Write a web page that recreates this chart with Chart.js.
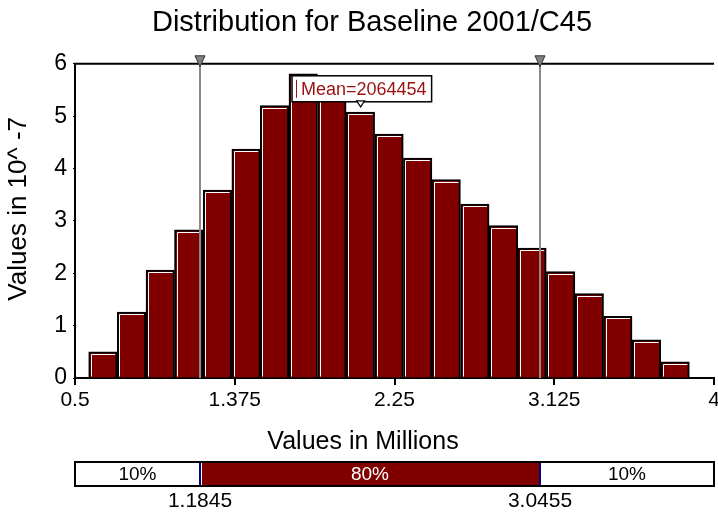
<!DOCTYPE html>
<html>
<head>
<meta charset="utf-8">
<script src="https://cdn.jsdelivr.net/npm/chart.js@4.4.1/dist/chart.umd.min.js"></script>
<style>
  html, body { margin: 0; padding: 0; background: #fff; }
  #wrap { width: 718px; height: 514px; }
</style>
</head>
<body>
<div id="wrap"><canvas id="distChart" width="718" height="514"></canvas></div>
<script>
// histogram bins (centres, in millions) and their density (x 10^-7)
const binCenters = [0.653, 0.810, 0.967, 1.123, 1.280, 1.437, 1.593, 1.750, 1.907, 2.063, 2.220,
                    2.377, 2.533, 2.690, 2.847, 3.003, 3.160, 3.317, 3.473, 3.630, 3.787];
const density = [0.50, 1.26, 2.06, 2.83, 3.59, 4.37, 5.20, 5.81, 5.50, 5.08, 4.66,
                 4.20, 3.79, 3.32, 2.91, 2.48, 2.03, 1.61, 1.18, 0.73, 0.31];

const xTickValues = [0.5, 1.375, 2.25, 3.125, 4];
const xTickLabels = ['0.5', '1.375', '2.25', '3.125', '4'];

const percentileValues = [1.1845, 3.0455];
const percentileLabels = ['1.1845', '3.0455'];
const bandLabels = ['10%', '80%', '10%'];

const meanValue = 2.064454;
const meanLabel = 'Mean=2064454';

const FONT = "'Liberation Sans', Arial, sans-serif";
const BAR_RED = '#800000';
const BAR_BORDER = 2;

// extra drawing: bar bevels, frame, percentile markers, mean label, band
const overlay = {
  id: 'overlay',
  afterDatasetsDraw(chart) {
    const { ctx } = chart;
    const meta = chart.getDatasetMeta(0);
    const bw = BAR_BORDER;
    ctx.save();
    ctx.strokeStyle = '#fff';
    ctx.lineWidth = 1;
    meta.data.forEach(bar => {
      const l = Math.round(bar.x - bar.width / 2 + bw) + 0.5;
      const r = bar.x + bar.width / 2 - bw;
      const t = Math.round(bar.y + bw) + 0.5;
      ctx.beginPath();
      ctx.moveTo(l, bar.base - 1);
      ctx.lineTo(l, t);
      ctx.lineTo(r, t);
      ctx.stroke();
    });
    ctx.restore();
  },
  afterDraw(chart) {
    const { ctx, chartArea: a } = chart;
    const x = chart.scales.x;
    ctx.save();

    // top frame line
    ctx.strokeStyle = '#000';
    ctx.lineWidth = 2;
    ctx.beginPath();
    ctx.moveTo(a.left - 1, a.top);
    ctx.lineTo(a.right, a.top);
    ctx.stroke();

    // percentile lines with grey markers on top
    percentileValues.forEach(v => {
      const px = Math.round(x.getPixelForValue(v));
      ctx.strokeStyle = '#8a8a8a';
      ctx.lineWidth = 2;
      ctx.beginPath();
      ctx.moveTo(px, a.top);
      ctx.lineTo(px, a.bottom);
      ctx.stroke();
      ctx.fillStyle = '#808080';
      ctx.strokeStyle = '#333';
      ctx.lineWidth = 1;
      ctx.beginPath();
      ctx.moveTo(px - 5, a.top - 8);
      ctx.lineTo(px + 5, a.top - 8);
      ctx.lineTo(px, a.top + 3);
      ctx.closePath();
      ctx.fill();
      ctx.stroke();
    });

    // mean label
    const mx = x.getPixelForValue(meanValue);
    ctx.font = '18px ' + FONT;
    const tw = ctx.measureText(meanLabel).width;
    const boxW = tw + 14;
    const boxL = Math.round(mx - boxW / 2 + 1);
    const boxT = a.top + 12;
    const boxH = 26;
    ctx.fillStyle = '#fff';
    ctx.fillRect(boxL, boxT, boxW, boxH);
    ctx.strokeStyle = '#000';
    ctx.lineWidth = 1.5;
    ctx.strokeRect(boxL, boxT, boxW, boxH);
    ctx.strokeStyle = '#9b1010';
    ctx.lineWidth = 1;
    ctx.beginPath();
    ctx.moveTo(boxL + 4.5, boxT + 4);
    ctx.lineTo(boxL + 4.5, boxT + boxH - 4);
    ctx.stroke();
    ctx.fillStyle = '#9b1010';
    ctx.textAlign = 'left';
    ctx.textBaseline = 'middle';
    ctx.fillText(meanLabel, boxL + 9, boxT + boxH / 2 + 1);

    // mean marker
    ctx.fillStyle = '#fff';
    ctx.strokeStyle = '#000';
    ctx.lineWidth = 1.2;
    ctx.beginPath();
    ctx.moveTo(mx - 4, a.top + 37);
    ctx.lineTo(mx + 4, a.top + 37);
    ctx.lineTo(mx, a.top + 43);
    ctx.closePath();
    ctx.fill();
    ctx.stroke();

    // axis titles
    ctx.fillStyle = '#000';
    ctx.textAlign = 'center';
    ctx.textBaseline = 'middle';
    ctx.font = '25px ' + FONT;
    ctx.fillText('Values in Millions', 363, a.bottom + 64);
    ctx.save();
    ctx.translate(19, a.top + 145);
    ctx.rotate(-Math.PI / 2);
    ctx.font = '26px ' + FONT;
    ctx.fillText('Values in 10^ -7', 0, 0);
    ctx.restore();

    // percentile band under the chart
    const bandT = a.bottom + 84;
    const bandH = 24;
    const p1 = Math.round(x.getPixelForValue(percentileValues[0]));
    const p2 = Math.round(x.getPixelForValue(percentileValues[1]));
    ctx.fillStyle = '#fff';
    ctx.fillRect(a.left, bandT, a.right - a.left, bandH);
    ctx.fillStyle = BAR_RED;
    ctx.fillRect(p1 + 2, bandT + 1, p2 - p1 - 3, bandH - 2);
    ctx.strokeStyle = '#000';
    ctx.lineWidth = 2;
    ctx.strokeRect(a.left, bandT, a.right - a.left, bandH);
    ctx.strokeStyle = '#000080';
    ctx.lineWidth = 2;
    [p1, p2].forEach(p => {
      ctx.beginPath();
      ctx.moveTo(p, bandT + 1);
      ctx.lineTo(p, bandT + bandH - 1);
      ctx.stroke();
    });
    const centers = [(a.left + p1) / 2, (p1 + p2) / 2, (p2 + a.right) / 2];
    ctx.font = '19px ' + FONT;
    bandLabels.forEach((t, i) => {
      ctx.fillStyle = i === 1 ? '#fff' : '#000';
      ctx.fillText(t, centers[i], bandT + bandH / 2 + 1);
    });
    ctx.font = '21px ' + FONT;
    ctx.fillStyle = '#000';
    percentileLabels.forEach((t, i) => {
      ctx.fillText(t, [p1, p2][i], bandT + bandH + 15);
    });

    ctx.restore();
  }
};

document.addEventListener('DOMContentLoaded', () => {
  const ctx = document.getElementById('distChart').getContext('2d');

  new Chart(ctx, {
    type: 'bar',
    data: {
      datasets: [{
        data: binCenters.map((c, i) => ({ x: c, y: density[i] })),
        backgroundColor: BAR_RED,
        borderColor: '#000',
        borderWidth: BAR_BORDER,
        barPercentage: 1,
        categoryPercentage: 1
      }]
    },
    options: {
      responsive: false,
      animation: false,
      devicePixelRatio: 1,
      layout: { padding: { left: 30, right: 4, top: 0, bottom: 0 } },
      scales: {
        x: {
          type: 'linear',
          min: 0.5,
          max: 4,
          offset: false,
          z: 1,
          afterBuildTicks: scale => {
            scale.ticks = xTickValues.map(v => ({ value: v }));
          },
          afterFit: scale => {
            scale.height = 136;
            scale.paddingLeft = 0;
            scale.paddingRight = 0;
          },
          ticks: {
            callback: (v, i) => xTickLabels[i],
            autoSkip: false,
            maxRotation: 0,
            padding: 3,
            color: '#000',
            font: { size: 21, family: FONT }
          },
          grid: { offset: false, drawOnChartArea: false, tickLength: 7, color: '#000', lineWidth: 2 },
          border: { color: '#000', width: 2 }
        },
        y: {
          min: 0,
          max: 6,
          z: 1,
          afterFit: scale => {
            scale.width = 45;
            scale.paddingTop = 0;
            scale.paddingBottom = 0;
          },
          ticks: {
            stepSize: 1,
            padding: 6,
            color: '#000',
            font: { size: 23, family: FONT }
          },
          grid: { drawOnChartArea: false, tickLength: 2, color: '#000' },
          border: { color: '#000', width: 2 }
        }
      },
      plugins: {
        legend: { display: false },
        tooltip: { enabled: false },
        title: {
          display: true,
          text: 'Distribution for Baseline 2001/C45',
          color: '#000',
          font: { size: 29, weight: 'normal', family: FONT },
          padding: { top: 6, bottom: 23 }
        }
      }
    },
    plugins: [overlay]
  });
});
</script>
</body>
</html>
